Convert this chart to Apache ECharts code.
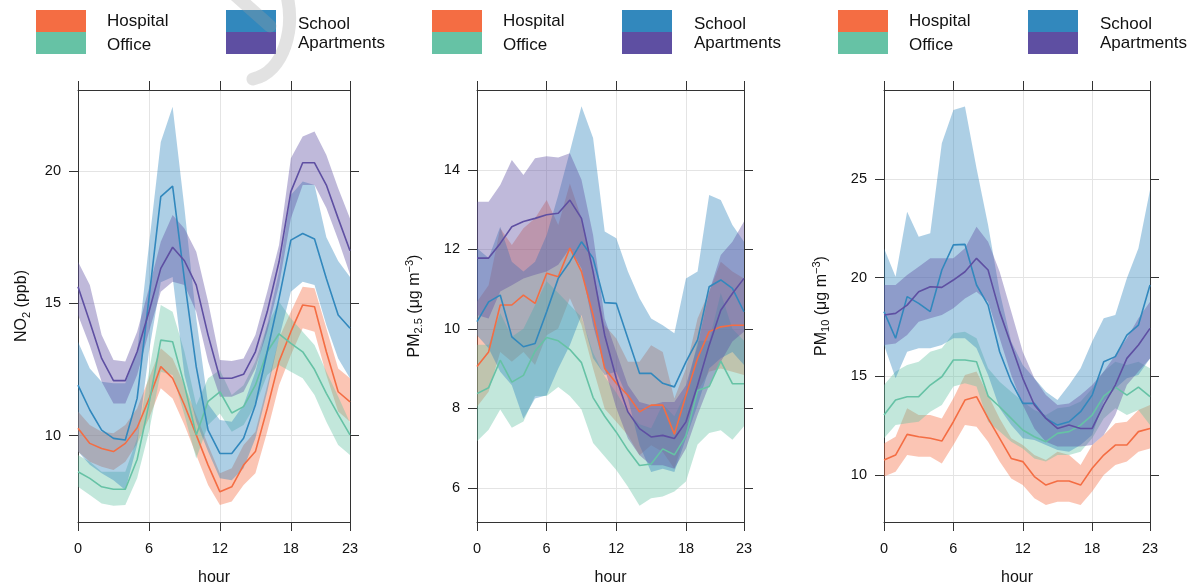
<!DOCTYPE html>
<html>
<head>
<meta charset="utf-8">
<script src="https://cdn.jsdelivr.net/npm/echarts@6/dist/echarts.min.js"></script>
<style>
  html, body { margin: 0; padding: 0; background: #fff; }
  #chart { width: 1197px; height: 587px; }
</style>
</head>
<body>
<div id="chart"></div>
<script>
// Diurnal profiles (hour of day) by site type: mean with confidence band.
const hours = [0, 1, 2, 3, 4, 5, 6, 7, 8, 9, 10, 11, 12, 13, 14, 15, 16, 17, 18, 19, 20, 21, 22, 23];
const hourTicks = [0, 6, 12, 18, 23];
const siteNames = ['Hospital', 'Office', 'School', 'Apartments'];
const siteColors = ['#F46D43', '#66C2A5', '#3288BD', '#5E4FA2'];
const bandColors = ['rgba(244,109,67,0.4)', 'rgba(102,194,165,0.4)', 'rgba(50,136,189,0.4)', 'rgba(94,79,162,0.4)'];

// NO2 (ppb)
const no2Ticks = [10, 15, 20];
const no2HospitalMean = [10.28, 9.71, 9.52, 9.40, 9.71, 10.30, 11.38, 12.61, 12.17, 11.16, 10.03, 8.89, 7.88, 8.07, 8.89, 9.40, 11.03, 12.80, 13.93, 14.94, 14.87, 13.17, 11.66, 11.28];
const no2HospitalLow = [9.40, 9.02, 8.83, 8.70, 9.02, 9.71, 10.65, 11.79, 11.41, 10.40, 9.27, 8.14, 7.38, 7.51, 8.14, 8.58, 10.15, 11.91, 13.05, 14.06, 13.93, 12.29, 10.91, 10.53];
const no2HospitalHigh = [10.91, 10.40, 10.15, 10.09, 10.40, 11.03, 12.17, 13.30, 12.92, 11.91, 10.78, 9.65, 8.58, 8.77, 9.65, 10.15, 11.91, 13.68, 14.68, 15.63, 15.57, 14.06, 12.54, 12.17];
const no2OfficeMean = [8.64, 8.39, 8.07, 7.98, 7.98, 9.10, 11.20, 13.61, 13.55, 11.91, 10.03, 11.30, 11.66, 10.86, 11.10, 11.91, 13.17, 13.85, 13.49, 13.17, 12.50, 11.60, 10.80, 10.03];
const no2OfficeLow = [8.07, 7.76, 7.44, 7.35, 7.38, 8.39, 10.15, 12.42, 12.29, 10.78, 9.14, 10.40, 10.84, 10.15, 10.40, 11.16, 12.29, 12.67, 12.42, 12.17, 11.54, 10.53, 9.65, 9.27];
const no2OfficeHigh = [9.27, 9.02, 8.64, 8.64, 8.64, 9.90, 12.42, 14.94, 14.68, 13.17, 11.16, 12.17, 12.48, 11.54, 11.91, 12.80, 14.18, 15.06, 14.43, 13.93, 13.43, 12.42, 11.48, 10.49];
const no2SchoolMean = [11.91, 10.97, 10.21, 9.90, 9.84, 11.41, 15.19, 19.03, 19.43, 15.90, 12.60, 10.21, 9.33, 9.33, 9.90, 11.16, 13.17, 15.19, 17.39, 17.64, 17.43, 15.94, 14.56, 14.06];
const no2SchoolLow = [9.40, 8.90, 8.58, 8.32, 7.95, 9.65, 13.17, 15.80, 16.00, 12.29, 10.53, 9.40, 8.39, 8.32, 8.77, 9.90, 11.66, 13.68, 15.44, 15.82, 15.69, 14.18, 12.92, 12.17];
const no2SchoolHigh = [13.55, 12.54, 12.04, 11.98, 11.98, 13.17, 17.20, 21.10, 22.43, 18.60, 14.43, 11.20, 10.59, 10.53, 11.16, 12.42, 14.18, 16.20, 19.09, 19.60, 19.47, 17.50, 16.60, 16.00];
const no2ApartmentsMean = [15.63, 14.30, 12.92, 12.08, 12.08, 13.17, 14.68, 16.32, 17.12, 16.61, 15.69, 13.80, 12.17, 12.17, 12.32, 13.17, 14.68, 16.57, 19.22, 20.31, 20.31, 19.47, 18.21, 16.99];
const no2ApartmentsLow = [14.56, 13.40, 12.04, 11.22, 11.22, 12.29, 13.93, 15.44, 15.82, 15.69, 14.68, 12.80, 11.47, 11.47, 11.66, 12.54, 13.93, 15.69, 18.21, 19.47, 19.47, 18.60, 17.40, 16.10];
const no2ApartmentsHigh = [16.57, 15.69, 13.80, 12.86, 12.80, 13.93, 15.57, 17.33, 18.34, 17.83, 16.95, 15.06, 12.86, 12.82, 12.92, 13.80, 15.44, 17.20, 20.48, 21.30, 21.49, 20.60, 19.35, 18.21];

// PM2.5 (ug m-3)
const pm25Ticks = [6, 8, 10, 12, 14];
const pm25HospitalMean = [9.05, 9.42, 10.60, 10.60, 10.85, 10.64, 11.40, 11.31, 12.03, 11.44, 10.35, 9.00, 8.63, 8.33, 7.91, 8.08, 8.08, 7.35, 8.33, 9.26, 9.93, 10.05, 10.09, 10.09];
const pm25HospitalLow = [8.04, 8.42, 9.42, 9.17, 9.42, 9.09, 9.84, 10.01, 10.77, 10.10, 9.00, 7.99, 7.66, 7.32, 6.82, 7.07, 6.90, 6.48, 7.41, 8.42, 8.92, 9.00, 8.92, 8.84];
const pm25HospitalHigh = [10.68, 11.10, 12.53, 12.11, 12.53, 12.78, 13.24, 12.61, 13.66, 12.78, 11.44, 10.09, 9.76, 9.17, 9.17, 9.59, 9.42, 8.25, 9.00, 10.26, 10.94, 11.69, 11.44, 11.27];
const pm25OfficeMean = [8.37, 8.52, 9.21, 8.66, 8.83, 9.44, 9.78, 9.70, 9.48, 9.15, 8.27, 7.80, 7.40, 6.95, 6.56, 6.60, 6.98, 6.83, 7.30, 8.45, 8.55, 9.19, 8.62, 8.62];
const pm25OfficeLow = [7.17, 7.46, 7.97, 7.51, 7.67, 8.31, 8.31, 8.54, 8.31, 7.97, 7.13, 6.79, 6.45, 6.03, 5.55, 5.74, 5.78, 5.91, 6.16, 7.09, 7.38, 7.45, 7.21, 7.55];
const pm25OfficeHigh = [9.60, 9.60, 10.40, 9.80, 10.00, 10.60, 11.20, 10.90, 10.60, 10.30, 9.40, 8.80, 8.40, 7.90, 7.60, 7.50, 8.10, 7.80, 8.40, 9.70, 9.70, 10.90, 10.00, 9.70];
const pm25SchoolMean = [10.18, 10.68, 10.85, 9.80, 9.55, 9.63, 10.43, 11.27, 11.69, 12.19, 11.78, 10.66, 10.64, 9.76, 8.88, 8.88, 8.63, 8.54, 9.17, 9.72, 11.06, 11.23, 11.02, 10.43];
const pm25SchoolLow = [9.84, 9.51, 8.92, 8.58, 7.74, 8.25, 8.33, 9.00, 9.59, 10.35, 9.26, 8.84, 8.92, 8.25, 7.07, 6.40, 6.48, 6.40, 7.24, 8.08, 9.00, 9.26, 9.42, 9.09];
const pm25SchoolHigh = [12.03, 11.78, 12.57, 11.69, 11.44, 11.69, 12.36, 13.37, 14.46, 15.60, 14.80, 12.45, 12.28, 11.44, 10.77, 10.26, 10.09, 9.89, 11.27, 11.44, 13.37, 13.24, 12.61, 12.19];
const pm25ApartmentsMean = [11.78, 11.78, 12.15, 12.57, 12.70, 12.78, 12.87, 12.91, 13.24, 12.78, 11.44, 9.84, 8.75, 7.91, 7.49, 7.28, 7.32, 7.24, 7.66, 8.58, 9.59, 10.47, 10.89, 11.27];
const pm25ApartmentsLow = [10.35, 10.26, 10.94, 11.10, 11.27, 11.36, 11.44, 11.61, 12.03, 11.52, 10.09, 9.00, 8.00, 7.24, 6.82, 6.57, 6.57, 6.48, 6.99, 7.83, 8.58, 9.17, 9.68, 9.93];
const pm25ApartmentsHigh = [13.20, 13.20, 13.62, 14.25, 13.87, 14.29, 14.34, 14.31, 14.42, 13.75, 12.36, 10.26, 9.42, 8.58, 8.16, 8.08, 8.16, 8.16, 8.58, 9.59, 10.94, 11.86, 12.19, 12.70];

// PM10 (ug m-3)
const pm10Ticks = [10, 15, 20, 25];
const pm10HospitalMean = [10.76, 11.01, 12.06, 11.94, 11.86, 11.72, 12.70, 13.80, 13.97, 12.87, 11.86, 10.84, 10.68, 9.92, 9.49, 9.70, 9.70, 9.49, 10.34, 11.01, 11.52, 11.52, 12.20, 12.36];
const pm10HospitalLow = [9.92, 10.17, 11.01, 10.93, 10.93, 10.59, 11.52, 12.53, 12.45, 11.69, 10.68, 9.83, 9.49, 8.82, 8.48, 8.65, 8.65, 8.48, 9.16, 10.00, 10.51, 10.68, 11.18, 11.35];
const pm10HospitalHigh = [11.60, 11.94, 13.38, 13.04, 13.04, 12.87, 13.89, 15.07, 15.24, 14.05, 12.87, 11.86, 11.52, 11.01, 10.76, 11.18, 11.01, 10.51, 11.52, 12.03, 12.62, 12.70, 13.29, 13.55];
const pm10OfficeMean = [13.04, 13.80, 13.97, 13.97, 14.56, 14.98, 15.83, 15.83, 15.74, 14.00, 13.46, 12.87, 12.28, 11.94, 11.69, 12.11, 12.20, 12.53, 13.04, 14.00, 14.45, 14.05, 14.45, 13.97];
const pm10OfficeLow = [11.86, 12.53, 12.62, 12.70, 13.21, 13.55, 14.48, 14.65, 14.48, 12.70, 12.20, 11.69, 11.35, 10.84, 10.68, 11.01, 11.01, 11.18, 11.86, 12.87, 13.38, 13.04, 13.29, 12.53];
const pm10OfficeHigh = [14.56, 15.24, 15.57, 15.74, 16.25, 16.42, 17.18, 17.26, 16.93, 15.41, 14.73, 14.22, 13.72, 13.29, 13.04, 13.38, 13.46, 13.72, 14.39, 15.24, 15.74, 15.57, 15.74, 15.41];
const pm10SchoolMean = [18.28, 16.93, 19.04, 18.70, 18.28, 20.39, 21.66, 21.69, 19.63, 18.61, 16.25, 14.73, 13.63, 13.63, 12.87, 12.53, 12.70, 13.21, 14.05, 15.74, 16.00, 17.09, 17.60, 19.63];
const pm10SchoolLow = [16.59, 14.90, 16.25, 16.42, 16.42, 16.59, 16.93, 16.93, 16.42, 15.07, 13.38, 12.53, 11.86, 11.77, 11.52, 11.27, 11.18, 11.52, 12.03, 13.72, 14.39, 14.90, 15.07, 15.91];
const pm10SchoolHigh = [21.49, 20.05, 23.34, 22.08, 22.25, 26.81, 28.50, 28.67, 25.54, 22.67, 19.29, 16.76, 15.57, 14.90, 14.22, 13.80, 14.56, 15.41, 16.76, 17.94, 18.11, 19.97, 21.49, 24.44];
const pm10ApartmentsMean = [18.11, 18.19, 18.61, 19.29, 19.54, 19.51, 19.88, 20.30, 20.98, 20.39, 18.28, 16.59, 14.90, 13.55, 12.87, 12.36, 12.53, 12.36, 12.36, 13.55, 14.56, 15.91, 16.59, 17.43];
const pm10ApartmentsLow = [16.59, 16.67, 17.09, 17.77, 17.94, 18.11, 18.45, 18.95, 19.29, 18.78, 16.93, 15.07, 13.55, 12.36, 11.69, 11.44, 11.44, 11.44, 11.52, 12.03, 13.04, 14.56, 15.24, 15.91];
const pm10ApartmentsHigh = [19.63, 19.63, 20.14, 20.56, 20.98, 20.98, 20.98, 21.49, 22.58, 21.82, 20.30, 18.28, 16.25, 14.90, 14.05, 13.55, 13.63, 14.05, 14.56, 15.24, 16.08, 16.93, 17.94, 18.78];

const FONT = 'Liberation Sans, Arial, Helvetica, sans-serif';
const INK = '#111';
const FRAME = '#333';
const GRIDLINE = '#e4e4e4';

const panels = [
  {
    left: 78, width: 272, yMin: 6.74, yMax: 23.06, ticks: no2Ticks, nameGap: 46,
    yName: '{b|NO}{sub|2}{b| (ppb)}',
    sites: [
      [no2HospitalMean, no2HospitalLow, no2HospitalHigh],
      [no2OfficeMean, no2OfficeLow, no2OfficeHigh],
      [no2SchoolMean, no2SchoolLow, no2SchoolHigh],
      [no2ApartmentsMean, no2ApartmentsLow, no2ApartmentsHigh]
    ]
  },
  {
    left: 477, width: 267, yMin: 5.14, yMax: 16.01, ticks: pm25Ticks, nameGap: 52,
    yName: '{b|PM}{sub|2.5}{b| (μg m}{sup|−3}{b|)}',
    sites: [
      [pm25HospitalMean, pm25HospitalLow, pm25HospitalHigh],
      [pm25OfficeMean, pm25OfficeLow, pm25OfficeHigh],
      [pm25SchoolMean, pm25SchoolLow, pm25SchoolHigh],
      [pm25ApartmentsMean, pm25ApartmentsLow, pm25ApartmentsHigh]
    ]
  },
  {
    left: 884, width: 266, yMin: 7.62, yMax: 29.51, ticks: pm10Ticks, nameGap: 52,
    yName: '{b|PM}{sub|10}{b| (μg m}{sup|−3}{b|)}',
    sites: [
      [pm10HospitalMean, pm10HospitalLow, pm10HospitalHigh],
      [pm10OfficeMean, pm10OfficeLow, pm10OfficeHigh],
      [pm10SchoolMean, pm10SchoolLow, pm10SchoolHigh],
      [pm10ApartmentsMean, pm10ApartmentsLow, pm10ApartmentsHigh]
    ]
  }
];

const nameRich = {
  b: { fontSize: 16, fontFamily: FONT, color: INK },
  sub: { fontSize: 11, fontFamily: FONT, color: INK, padding: [9, 0, 0, 0] },
  sup: { fontSize: 11, fontFamily: FONT, color: INK, padding: [0, 0, 10, 0] }
};

// Polygon band between the lower and upper bounds, drawn once per series.
function bandRenderer(low, high, fill) {
  return function (params, api) {
    if (params.dataIndex !== 0) return null;
    const pts = [];
    hours.forEach((h, i) => pts.push(api.coord([h, high[i]])));
    for (let i = hours.length - 1; i >= 0; i--) pts.push(api.coord([hours[i], low[i]]));
    return { type: 'polygon', shape: { points: pts }, style: { fill: fill, stroke: null } };
  };
}

const grid = [], xAxis = [], yAxis = [], series = [];

panels.forEach((p, gi) => {
  grid.push({
    left: p.left, top: 90, width: p.width, height: 432,
    containLabel: false, outerBoundsMode: 'none'
  });

  const tickStyle = { show: true, inside: false, length: 9, lineStyle: { color: FRAME, width: 1 } };
  // bottom axis with labels, top axis with ticks only
  xAxis.push({
    type: 'value', gridIndex: gi, min: 0, max: 23, interval: 6, position: 'bottom',
    axisLine: { show: true, onZero: false, lineStyle: { color: FRAME, width: 1 } },
    axisTick: Object.assign({ customValues: hourTicks }, tickStyle),
    axisLabel: { customValues: hourTicks, margin: 19, fontSize: 14.5, fontFamily: FONT, color: INK },
    splitLine: { show: true, lineStyle: { color: GRIDLINE, width: 1 } },
    name: 'hour', nameLocation: 'middle', nameGap: 48,
    nameTextStyle: { fontSize: 16, fontFamily: FONT, color: INK }
  });
  xAxis.push({
    type: 'value', gridIndex: gi, min: 0, max: 23, position: 'top',
    axisLine: { show: true, onZero: false, lineStyle: { color: FRAME, width: 1 } },
    axisTick: Object.assign({ customValues: hourTicks }, tickStyle),
    axisLabel: { show: false }, splitLine: { show: false }
  });
  // left axis with labels, right axis with ticks only
  yAxis.push({
    type: 'value', gridIndex: gi, min: p.yMin, max: p.yMax, position: 'left',
    axisLine: { show: true, onZero: false, lineStyle: { color: FRAME, width: 1 } },
    axisTick: Object.assign({ customValues: p.ticks }, tickStyle),
    axisLabel: { customValues: p.ticks, margin: 17, fontSize: 14.5, fontFamily: FONT, color: INK },
    splitLine: { show: true, lineStyle: { color: GRIDLINE, width: 1 } },
    name: p.yName, nameLocation: 'middle', nameRotate: 90, nameGap: p.nameGap,
    nameTextStyle: { fontSize: 16, fontFamily: FONT, color: INK, rich: nameRich }
  });
  yAxis.push({
    type: 'value', gridIndex: gi, min: p.yMin, max: p.yMax, position: 'right',
    axisLine: { show: true, onZero: false, lineStyle: { color: FRAME, width: 1 } },
    axisTick: Object.assign({ customValues: p.ticks }, tickStyle),
    axisLabel: { show: false }, splitLine: { show: false }
  });

  p.sites.forEach((s, si) => {
    const [mean, low, high] = s;
    // confidence band
    series.push({
      type: 'custom', name: siteNames[si] + ' band',
      xAxisIndex: gi * 2, yAxisIndex: gi * 2, silent: true, clip: true, z: 2,
      data: hours.map((h, i) => [h, low[i], high[i]]),
      encode: { x: 0, y: [1, 2] },
      renderItem: bandRenderer(low, high, bandColors[si])
    });
    // mean line
    series.push({
      type: 'line', name: siteNames[si],
      xAxisIndex: gi * 2, yAxisIndex: gi * 2, symbol: 'none', silent: true, z: 2,
      lineStyle: { width: 1.6, color: siteColors[si] },
      data: hours.map((h, i) => [h, mean[i]])
    });
  });
});

// per-panel key: two stacked colour blocks, each with two labels
const keyLefts = [36, 432, 838];
const graphic = [];
keyLefts.forEach(L => {
  const blocks = [
    { x: L, y: 10, c: siteColors[0] }, { x: L, y: 32, c: siteColors[1] },
    { x: L + 190, y: 10, c: siteColors[2] }, { x: L + 190, y: 32, c: siteColors[3] }
  ];
  blocks.forEach(b => graphic.push({
    type: 'rect', shape: { x: b.x, y: b.y, width: 50, height: 22 },
    style: { fill: b.c }, silent: true
  }));
  const labels = [
    { t: siteNames[0], x: L + 71, y: 21.5 }, { t: siteNames[1], x: L + 71, y: 45 },
    { t: siteNames[2], x: L + 262, y: 24 }, { t: siteNames[3], x: L + 262, y: 43.5 }
  ];
  labels.forEach(l => graphic.push({
    type: 'text', x: l.x, y: l.y, silent: true,
    style: {
      text: l.t, fill: INK, font: '17px ' + FONT,
      textAlign: 'left', textVerticalAlign: 'middle', align: 'left', verticalAlign: 'middle'
    }
  }));
});
// faint watermark strokes near the top
const markStroke = { stroke: 'rgba(160,160,160,0.3)', lineWidth: 13, lineCap: 'round', fill: null };
graphic.push({
  type: 'line', silent: true, z: 100,
  shape: { x1: 234, y1: -6, x2: 270, y2: 26 }, style: markStroke
});
graphic.push({
  type: 'bezierCurve', silent: true, z: 100,
  shape: { x1: 286, y1: -8, cpx1: 296, cpy1: 28, cpx2: 284, cpy2: 72, x2: 253, y2: 79 },
  style: markStroke
});

const chart = echarts.init(document.getElementById('chart'), null, { renderer: 'canvas' });
chart.setOption({
  backgroundColor: '#ffffff',
  animation: false,
  grid, xAxis, yAxis, series, graphic
});
</script>
</body>
</html>
